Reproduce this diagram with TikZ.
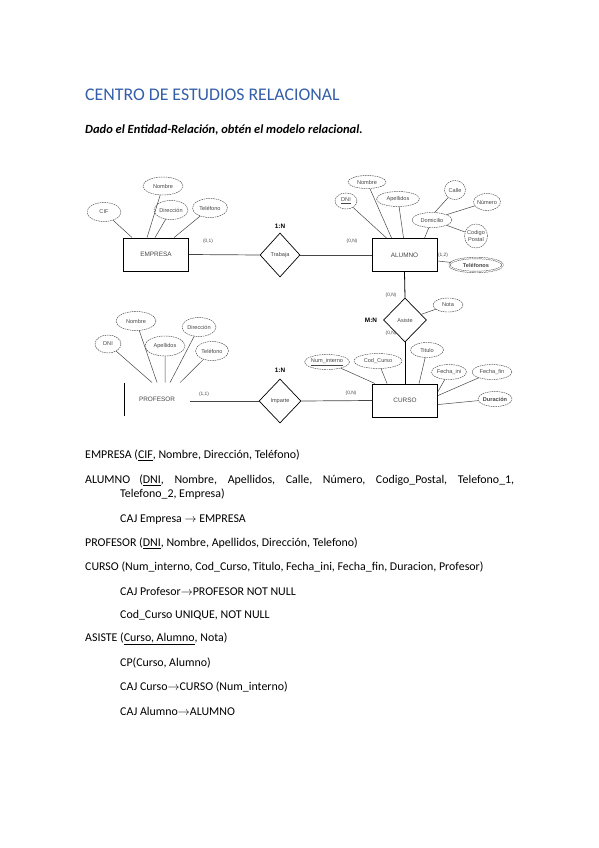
\documentclass[tikz,border=0pt]{standalone}
\usepackage{fontspec}
\setmainfont{Carlito}
\newfontfamily\erfont{Liberation Sans}
\usepackage{tikz}
\usetikzlibrary{shapes.geometric,calc}
\definecolor{TitleBlue}{RGB}{52,94,168}
\definecolor{ink}{RGB}{70,70,70}
\newcommand{\toarrow}{$\rightarrow$}
\newcommand{\erfs}{\erfont\fontsize{5.6}{6.2}\selectfont}
\newcommand{\cardfs}{\erfont\fontsize{4.8}{5.4}\selectfont}

\begin{document}
\begin{tikzpicture}[x=1pt,y=-1pt,
  entity/.style={rectangle,draw,line width=0.9pt,minimum width=65pt,minimum height=33pt,inner sep=0pt,font=\erfont\fontsize{6.4}{7}\selectfont,text=ink},
  rel/.style={diamond,draw,line width=0.7pt,inner sep=0pt,minimum width=42pt,minimum height=44pt,font=\erfs,text=ink},
  attr/.style={ellipse,draw=ink,line width=0.45pt,dash pattern=on 1.6pt off 0.8pt,inner sep=-0.8pt,font=\erfs,text=ink,align=center},
  link/.style={draw=ink,line width=0.5pt},
  card/.style={font=\cardfs,text=ink,inner sep=0pt},
  ratio/.style={font=\erfont\bfseries\fontsize{6.4}{7}\selectfont,inner sep=0pt},
  txt/.style={anchor=west,inner sep=0pt,font=\fontsize{11.9}{14}\selectfont}]
  \useasboundingbox (0,0) rectangle (599,848);

  % heading
  \node[anchor=west,inner sep=0pt,text=TitleBlue,font=\fontsize{17.8}{21}\selectfont] (title) at (85,95) {CENTRO DE ESTUDIOS RELACIONAL};
  \node[txt,font=\fontsize{12.5}{15}\selectfont\bfseries\itshape] (task) at (85,130) {Dado el Entidad-Relación, obtén el modelo relacional.};

  % entities and relationships
  \node[entity] (empresa) at (156,254.5) {EMPRESA};
  \node[entity] (alumno) at (404.5,255) {ALUMNO};
  \node[entity] (curso) at (405,400.5) {CURSO};
  \node[entity,draw=none] (profesor) at (157,399.5) {PROFESOR};
  \draw[line width=0.9pt] (profesor.north west) -- (profesor.south west);
  \node[rel,minimum width=40pt] (trabaja) at (280,255) {Trabaja};
  \node[rel] (imparte) at (280,401) {Imparte};
  \node[rel,minimum width=43pt] (asiste) at (405,320) {Asiste};

  \draw[link,line width=0.7pt] (empresa.east) -- (trabaja.west);
  \draw[link,line width=0.7pt] (trabaja.east) -- (alumno.west);
  \draw[link,line width=0.7pt] (profesor.east |- imparte.west) -- (imparte.west);
  \draw[link,line width=0.7pt] (imparte.east) -- (curso.west);
  \draw[line width=0.8pt] (alumno.south) -- (asiste.north);
  \draw[line width=0.8pt] (asiste.south) -- (curso.north);

  % cardinalities
  \node[card] (c1) at (208,241) {(0,1)};
  \node[card] (c2) at (352,241) {(0,N)};
  \node[card] (c3) at (443,255) {(1,2)};
  \node[card] (c4) at (391,295) {(0,N)};
  \node[card] (c5) at (391,333) {(0,N)};
  \node[card] (c6) at (351,393) {(0,N)};
  \node[card] (c7) at (204,394) {(1,1)};
  \node[ratio] (r1) at (280,226) {1:N};
  \node[ratio] (r2) at (280,370) {1:N};
  \node[ratio] (r3) at (371,320) {M:N};

  % attributes of EMPRESA
  \foreach \id/\ax/\ay/\w/\h/\lbl/\dx in {ecif/104/212/34/19/CIF/9, enom/163/186/40/18/Nombre/24,
      edir/171/210/34/19/Dirección/32, etel/210/208/35/19/Teléfono/51}{
    \node[attr,minimum width=\w pt,minimum height=\h pt] (\id) at (\ax,\ay) {\lbl};
    \draw[link] (\id) -- ($(empresa.north west)+(\dx,0)$);
  }

  % attributes of PROFESOR
  \foreach \id/\ax/\ay/\w/\h/\lbl/\dx in {pdni/108/344/26/18/DNI/28, pnom/136/321/40/19/Nombre/33,
      pape/165/346/40/20/Apellidos/41, pdir/199/327/34/19/Dirección/46, ptel/212/351/33/19/Teléfono/56}{
    \node[attr,minimum width=\w pt,minimum height=\h pt] (\id) at (\ax,\ay) {\lbl};
    \draw[link] (\id) -- ($(profesor.north west)+(\dx,0)$);
  }

  % attributes of ALUMNO
  \node[attr,minimum width=22pt,minimum height=16pt] (adni) at (346,201) {\underline{DNI}};
  \node[attr,minimum width=38pt,minimum height=13pt] (anom) at (367,182) {Nombre};
  \node[attr,minimum width=43pt,minimum height=15pt] (aape) at (398,199) {Apellidos};
  \node[attr,minimum width=40pt,minimum height=15pt] (adom) at (432,220) {Domicilio};
  \node[attr,minimum width=21pt,minimum height=19pt] (calle) at (455,190) {Calle};
  \node[attr,minimum width=27pt,minimum height=17pt] (numero) at (487,202) {Número};
  \node[attr,minimum width=23pt,minimum height=24pt] (cpostal) at (476,236) {Codigo\\Postal};
  \node[attr,double,double distance=1.1pt,minimum width=53pt,minimum height=14pt,font=\erfs\bfseries] (atel) at (476,265) {Teléfonos};
  \foreach \id/\dx in {adni/15, anom/20, aape/32, adom/53}
    \draw[link] (\id) -- ($(alumno.north west)+(\dx,0)$);
  \draw[link] (adom.70) -- (calle);
  \draw[link] (adom.20) -- (numero);
  \draw[link] (adom.-20) -- (cpostal);
  \draw[link] ($(alumno.east)+(0,6)$) -- (atel);

  % attribute of ASISTE
  \node[attr,minimum width=30pt,minimum height=14pt] (nota) at (448,305) {Nota};
  \draw[link] (asiste) -- (nota);

  % attributes of CURSO
  \node[attr,minimum width=45pt,minimum height=15pt] (cnum) at (327,362) {\underline{Num\_interno}};
  \node[attr,minimum width=48pt,minimum height=15pt] (ccod) at (378,361) {Cod\_Curso};
  \node[attr,minimum width=33pt,minimum height=15pt] (ctit) at (427,350) {Titulo};
  \node[attr,minimum width=35pt,minimum height=15pt] (cfini) at (449,372) {Fecha\_ini};
  \node[attr,minimum width=40pt,minimum height=15pt] (cffin) at (492,372) {Fecha\_fin};
  \node[attr,minimum width=34pt,minimum height=15pt,font=\erfs\bfseries] (cdur) at (495,399) {Duración};
  \foreach \id/\dx in {cnum/3, ccod/15, ctit/47}
    \draw[link] (\id) -- ($(curso.north west)+(\dx,0)$);
  \foreach \id/\dy in {cfini/8, cffin/12, cdur/21}
    \draw[link] (\id) -- ($(curso.north east)+(0,\dy)$);

  % relational model
  \node[txt] (m1) at (85,455) {EMPRESA (\underline{CIF}, Nombre, Dirección, Teléfono)};
  \node[txt] (m2) at (85,480) {\makebox[429pt][s]{ALUMNO (\underline{DNI}, Nombre, Apellidos, Calle, Número, Codigo\_Postal, Telefono\_1,}};
  \node[txt] (m3) at (120,494) {Telefono\_2, Empresa)};
  \node[txt] (m4) at (120,520) {CAJ Empresa \toarrow{} EMPRESA};
  \node[txt] (m5) at (85,543) {PROFESOR (\underline{DNI}, Nombre, Apellidos, Dirección, Telefono)};
  \node[txt] (m6) at (85,567) {CURSO (Num\_interno, Cod\_Curso, Titulo, Fecha\_ini, Fecha\_fin, Duracion, Profesor)};
  \node[txt] (m7) at (120,591) {CAJ Profesor\toarrow PROFESOR NOT NULL};
  \node[txt] (m8) at (120,615) {Cod\_Curso UNIQUE, NOT NULL};
  \node[txt] (m9) at (85,639) {ASISTE (\underline{Curso, Alumno}, Nota)};
  \node[txt] (m10) at (120,663) {CP(Curso, Alumno)};
  \node[txt] (m11) at (120,687) {CAJ Curso\toarrow CURSO (Num\_interno)};
  \node[txt] (m12) at (120,711) {CAJ Alumno\toarrow ALUMNO};
\end{tikzpicture}
\end{document}
